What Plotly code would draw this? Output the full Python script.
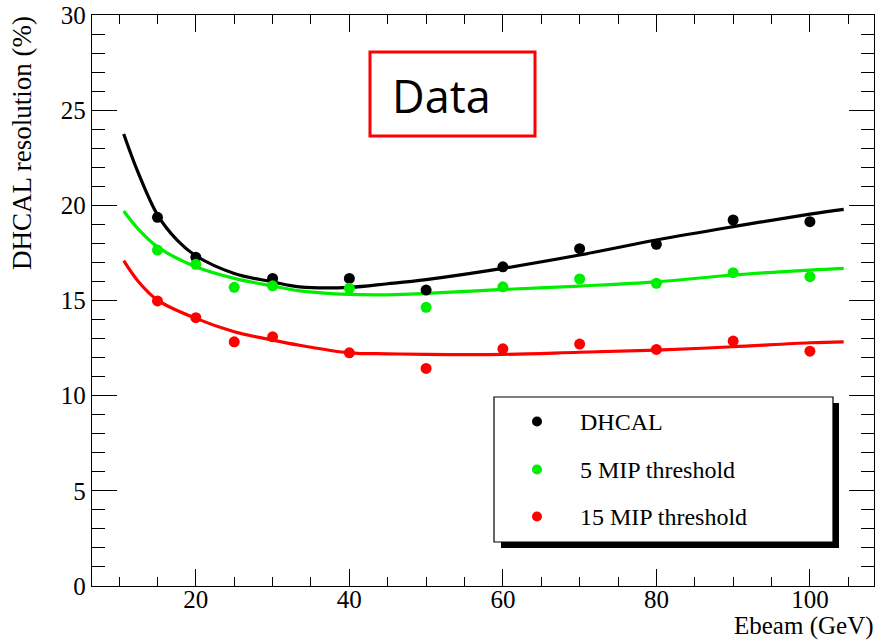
import plotly.graph_objects as go

# ---------------- data ----------------
energies = [15, 20, 25, 30, 40, 50, 60, 70, 80, 90, 100]
dhcal_x = [15, 20, 30, 40, 50, 60, 70, 80, 90, 100]
dhcal_y = [19.37, 17.27, 16.16, 16.16, 15.55, 16.77, 17.72, 17.95, 19.23, 19.14]
mip5_y = [17.65, 16.9, 15.69, 15.77, 15.64, 14.64, 15.72, 16.13, 15.9, 16.46, 16.25]
mip15_y = [14.98, 14.1, 12.83, 13.09, 12.25, 11.43, 12.46, 12.71, 12.43, 12.87, 12.34]

fit_black_x = [10.6, 12.5, 15, 17.5, 20, 25, 30, 33.5, 40, 45, 50, 60, 70, 80, 90, 100, 104.4]
fit_black_y = [23.75, 21.7, 19.5, 18.2, 17.35, 16.42, 15.98, 15.72, 15.69, 15.88, 16.1, 16.69, 17.39, 18.18, 18.88, 19.54, 19.79]
fit_x = [10.6, 12.5, 15, 20, 25, 30, 33.5, 40, 45, 50, 60, 70, 80, 90, 100, 104.4]
fit_green_y = [19.7, 18.75, 17.82, 16.77, 16.16, 15.76, 15.51, 15.32, 15.3, 15.37, 15.58, 15.76, 15.98, 16.34, 16.6, 16.69]
fit_red_y = [17.09, 16.0, 15.02, 14.06, 13.36, 12.92, 12.65, 12.25, 12.2, 12.17, 12.17, 12.28, 12.39, 12.57, 12.78, 12.83]

legend_labels = ["DHCAL", "5 MIP threshold", "15 MIP threshold"]
colors = ["#000000", "#00ee00", "#ff0000"]

# ---------------- layout geometry ----------------
W, H = 876, 642
ML, MR, MT, MB = 92, 2, 15, 56
PW = W - ML - MR
PH = H - MT - MB


def px(x):
    return (x - ML) / PW


def py(y):
    return (H - MB - y) / PH


SERIF = "Liberation Serif, Times New Roman, serif"

fig = go.Figure()

# fit curves
for fx, fy, c in [(fit_black_x, fit_black_y, colors[0]),
                  (fit_x, fit_green_y, colors[1]),
                  (fit_x, fit_red_y, colors[2])]:
    fig.add_trace(go.Scatter(x=fx, y=fy, mode="lines", line=dict(color=c, width=3.2, shape="spline", smoothing=1.0),
                             showlegend=False, hoverinfo="skip"))

# data points
for xs, ys, c, name in [(dhcal_x, dhcal_y, colors[0], legend_labels[0]),
                        (energies, mip5_y, colors[1], legend_labels[1]),
                        (energies, mip15_y, colors[2], legend_labels[2])]:
    fig.add_trace(go.Scatter(x=xs, y=ys, mode="markers", name=name,
                             marker=dict(color=c, size=11, symbol="circle"),
                             showlegend=False))

shapes = []
annotations = []

# legend box with shadow
lx0, ly0, lx1, ly1 = 494, 397, 833, 542
shapes.append(dict(type="rect", xref="paper", yref="paper", x0=px(lx0 + 7), x1=px(lx1 + 6),
                   y0=py(ly1 + 6), y1=py(ly0 + 6), fillcolor="black", line=dict(width=0), layer="above"))
shapes.append(dict(type="rect", xref="paper", yref="paper", x0=px(lx0), x1=px(lx1),
                   y0=py(ly1), y1=py(ly0), fillcolor="white", line=dict(color="black", width=1.2),
                   layer="above"))
rows = [421.5, 469.5, 516.5]
for r, c, lab in zip(rows, colors, legend_labels):
    shapes.append(dict(type="circle", xref="paper", yref="paper", x0=px(532), x1=px(542),
                       y0=py(r + 5), y1=py(r - 5), fillcolor=c, line=dict(width=0), layer="above"))
    annotations.append(dict(text=lab, xref="paper", yref="paper", x=px(578), y=py(r),
                            xanchor="left", yanchor="middle", showarrow=False,
                            font=dict(family=SERIF, size=24, color="black")))

# "Data" box
shapes.append(dict(type="rect", xref="paper", yref="paper", x0=px(370), x1=px(535),
                   y0=py(136), y1=py(52), fillcolor="rgba(0,0,0,0)",
                   line=dict(color="#ff0000", width=3), layer="above"))
annotations.append(dict(text="Data", xref="paper", yref="paper", x=px(390), y=py(95),
                        xanchor="left", yanchor="middle", showarrow=False,
                        font=dict(family="Open Sans, sans-serif", size=45, color="black")))

# axis titles
annotations.append(dict(text="Ebeam (GeV)", xref="paper", yref="paper", x=px(875), y=py(641.5),
                        xanchor="right", yanchor="bottom", showarrow=False, borderpad=0,
                        font=dict(family=SERIF, size=25, color="black")))
annotations.append(dict(text="DHCAL resolution (%)", xref="paper", yref="paper", x=px(22), y=py(14),
                        xanchor="center", yanchor="top", textangle=-90, showarrow=False,
                        font=dict(family=SERIF, size=27, color="black")))

fig.update_layout(
    width=W, height=H,
    margin=dict(l=ML, r=MR, t=MT, b=MB, pad=0),
    paper_bgcolor="white", plot_bgcolor="white",
    shapes=shapes, annotations=annotations,
    showlegend=False,
    font=dict(family=SERIF, size=25, color="black"),
)
fig.update_xaxes(range=[6.47, 108.35], tickmode="linear", tick0=0, dtick=20,
                 ticks="inside", ticklen=17, tickwidth=1.4, tickcolor="black",
                 minor=dict(ticks="inside", ticklen=9, dtick=5, tick0=0, tickwidth=1.4, tickcolor="black"),
                 showline=True, linecolor="black", linewidth=1.4, mirror="ticks",
                 showgrid=False, zeroline=False, ticklabelstandoff=-9,
                 tickfont=dict(family=SERIF, size=25, color="black"))
fig.update_yaxes(range=[0, 30], tickmode="linear", tick0=0, dtick=5,
                 ticks="inside", ticklen=25, tickwidth=1.4, tickcolor="black",
                 minor=dict(ticks="inside", ticklen=13, dtick=1, tick0=0, tickwidth=1.4, tickcolor="black"),
                 showline=True, linecolor="black", linewidth=1.4, mirror="ticks",
                 showgrid=False, zeroline=False,
                 tickfont=dict(family=SERIF, size=25, color="black"))

fig.write_html("out.html")
